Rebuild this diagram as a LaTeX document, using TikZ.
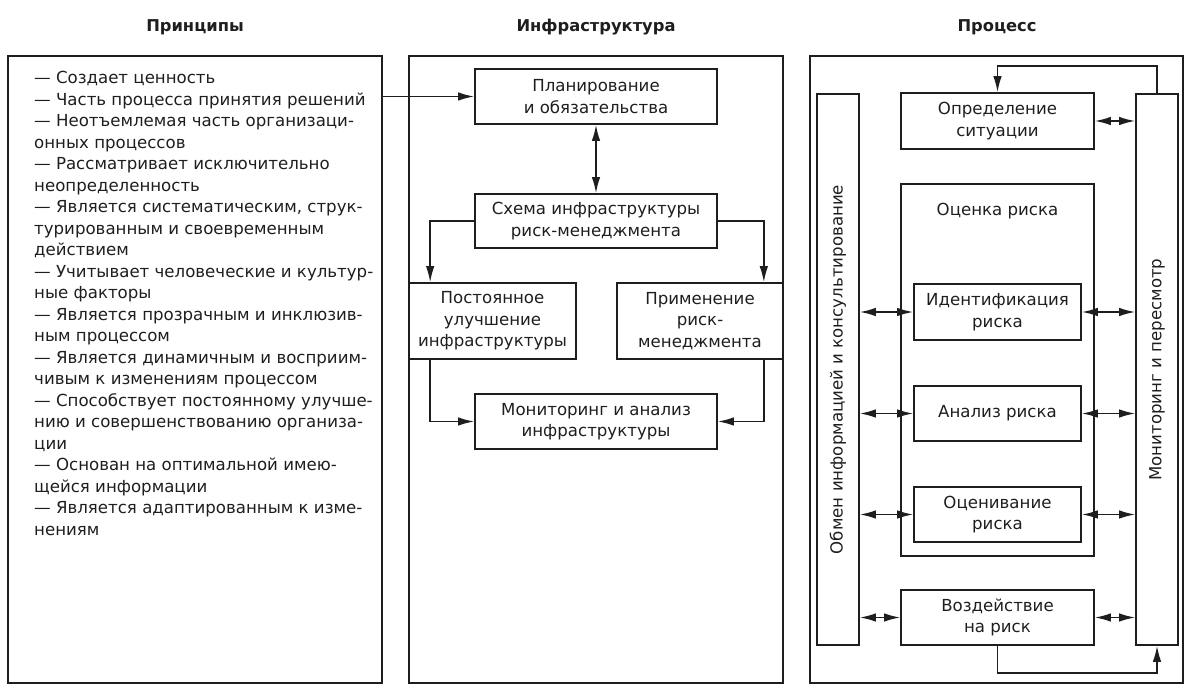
\documentclass[tikz,border=0pt]{standalone}
\usepackage{fontspec}
\setmainfont{DejaVu Sans}
\usetikzlibrary{arrows.meta}
\definecolor{ink}{HTML}{1E1E1E}
\begin{document}
\begin{tikzpicture}[x=1pt,y=-1pt,
 txt/.style={font=\fontsize{16.6}{21.5}\selectfont, text=ink},
 box/.style={draw=ink, line width=1.7pt, inner sep=0pt, align=center, txt},
 panel/.style={draw=ink, line width=1.3pt, inner sep=0pt},
 tip/.tip={Latex[length=16pt,width=8.5pt]},
 arr/.style={-tip, line width=1.5pt, draw=ink},
 darr/.style={tip-tip, line width=1.5pt, draw=ink},
 title/.style={font=\bfseries\fontsize{16.3}{19}\selectfont, text=ink}]
\useasboundingbox (0,0) rectangle (1189,695);
% titles
\node[title] (t1) at (195,27) {Принципы};
\node[title] (t2) at (596,27) {Инфраструктура};
\node[title] (t3) at (997,27) {Процесс};
% panels
\node[panel, minimum width=374pt, minimum height=627pt] (pp) at (195,369.5) {};
\node[panel, minimum width=374pt, minimum height=627pt] (pm) at (596,369.5) {};
\node[panel, minimum width=373pt, minimum height=627pt] (pr) at (996.5,369.5) {};
% principles list
\node[txt, align=left, anchor=north west, inner sep=0pt] (plist) at (34,71) {%
— Создает ценность\\
— Часть процесса принятия решений\\
— Неотъемлемая часть организаци-\\
онных процессов\\
— Рассматривает исключительно\\
неопределенность\\
— Является систематическим, струк-\\
турированным и своевременным\\
действием\\
— Учитывает человеческие и культур-\\
ные факторы\\
— Является прозрачным и инклюзив-\\
ным процессом\\
— Является динамичным и восприим-\\
чивым к изменениям процессом\\
— Способствует постоянному улучше-\\
нию и совершенствованию организа-\\
ции\\
— Основан на оптимальной имею-\\
щейся информации\\
— Является адаптированным к изме-\\
нениям};
% infrastructure
\node[box, minimum width=242pt, minimum height=55pt] (plan) at (596,96.5) {Планирование\\и обязательства};
\node[box, minimum width=242pt, minimum height=54pt] (schema) at (596,221) {Схема инфраструктуры\\риск-менеджмента};
\node[box, minimum width=167pt, minimum height=76pt] (post) at (492.5,321) {Постоянное\\улучшение\\инфраструктуры};
\node[box, minimum width=166pt, minimum height=76pt] (prim) at (700,321) {Применение\\риск-\\менеджмента};
\node[box, minimum width=242pt, minimum height=55pt] (mon) at (596,421.5) {Мониторинг и анализ\\инфраструктуры};
\draw[arr] (plan.west -| pp.east) -- (plan.west);
\draw[darr] (plan.south) -- (schema.north);
\draw[arr] (schema.west) -| ([xshift=22pt]post.north west);
\draw[arr] (schema.east) -| ([xshift=-20pt]prim.north east);
\draw[arr] ([xshift=22pt]post.south west) |- (mon.west);
\draw[arr] ([xshift=-20pt]prim.south east) |- (mon.east);
% process
\node[box, minimum width=42pt, minimum height=551pt] (lbar) at (838,369.5) {};
\node[box, minimum width=42pt, minimum height=551pt] (rbar) at (1157,369.5) {};
\node[txt, rotate=90] (ltext) at (lbar.center) {Обмен информацией и консультирование};
\node[txt, rotate=90] (rtext) at (rbar.center) {Мониторинг и пересмотр};
\node[box, minimum width=193pt, minimum height=56pt] (opr) at (997.5,121) {Определение\\ситуации};
\node[panel, line width=1.4pt, minimum width=193pt, minimum height=372pt] (ots) at (997.5,370) {};
\node[txt] (otst) at (997.5,211) {Оценка риска};
\node[box, minimum width=167pt, minimum height=56pt] (ident) at (997.5,312) {Идентификация\\риска};
\node[box, minimum width=167pt, minimum height=55pt] (anal) at (997.5,413.5) {Анализ риска};
\node[box, minimum width=167pt, minimum height=55pt] (otsv) at (997.5,514.5) {Оценивание\\риска};
\node[box, minimum width=193pt, minimum height=55pt] (vozd) at (997.5,617.5) {Воздействие\\на риск};
\draw[darr] (opr.east) -- (opr.east -| rbar.west);
\draw[darr] (ident.west -| lbar.east) -- (ident.west);
\draw[darr] (anal.west -| lbar.east) -- (anal.west);
\draw[darr] (otsv.west -| lbar.east) -- (otsv.west);
\draw[darr] (ident.east) -- (ident.east -| rbar.west);
\draw[darr] (anal.east) -- (anal.east -| rbar.west);
\draw[darr] (otsv.east) -- (otsv.east -| rbar.west);
\draw[darr] (vozd.west -| lbar.east) -- (vozd.west);
\draw[darr] (vozd.east) -- (vozd.east -| rbar.west);
\draw[arr] (rbar.north) -- ++(0,-27) -| (opr.north);
\draw[arr] (vozd.south) -- ++(0,27) -| (rbar.south);
\end{tikzpicture}
\end{document}
